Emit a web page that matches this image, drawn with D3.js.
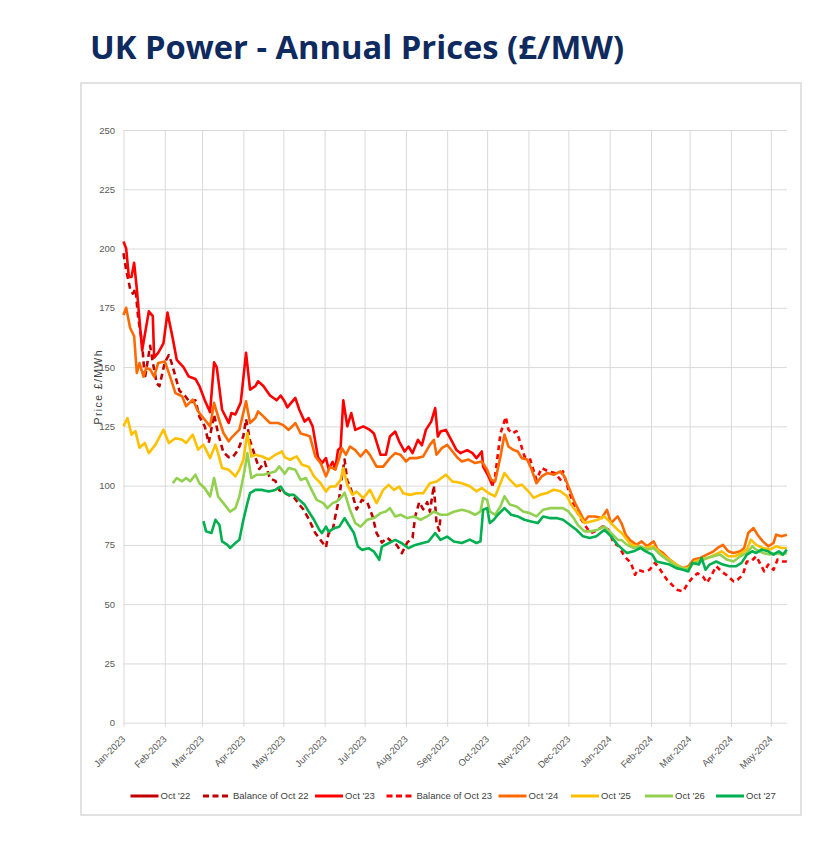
<!DOCTYPE html>
<html>
<head>
<meta charset="utf-8">
<script src="https://cdn.jsdelivr.net/npm/d3@7"></script>
<style>
  html, body { margin: 0; padding: 0; background: #ffffff; }
  svg { display: block; }
</style>
</head>
<body>
<div id="chart"></div>
<script>
// ---------------- DATA ----------------
// x values are day offsets from startDate (2023-01-01); y values are £/MWh
const startDate = new Date(2023, 0, 1);
const yTicks = [0, 25, 50, 75, 100, 125, 150, 175, 200, 225, 250];
const seriesNames = ["Oct '22", "Balance of Oct 22", "Oct '23", "Balance of Oct 23", "Oct '24", "Oct '25", "Oct '26", "Oct '27"];

const oct22 = [];   // legend only, no visible data in this window

const balOct22 = [[0,198],[2,191],[5,183],[7,181],[9,183],[11,171],[14,160],[16,145],[18,152],[20,159],[22,152],[25,143],[27,142],[31,152],[34,155],[36,152],[39,146],[42,140],[46,138],[50,135],[54,136],[57,129],[61,125],[64,118],[68,130],[71,122],[75,114],[79,112],[82,112],[86,115],[90,121],[92,128],[95,119],[99,112],[102,107],[106,110],[110,103],[114,102],[117,98],[121,97],[124,96],[128,95],[132,92],[135,90],[139,86],[144,80],[148,77],[152,74],[154,80],[157,81],[159,87],[162,95],[164,104],[166,111],[168,102],[170,100],[173,94],[175,90],[179,94],[183,93],[187,87],[190,80],[194,76],[198,78],[202,76],[205,75],[209,71.5],[213,76],[217,78],[219,87],[222,93],[225,90],[228,93],[230,89],[233,100],[235,84],[237,81],[238,87]];

const oct23 = [[0,203],[2,200],[4,188],[6,188],[8,194],[10,183],[14,157],[19,173.5],[22,171.5],[23,154],[26,156],[30,160],[33,173],[37,162],[40,153],[45,150],[49,146],[54,145],[57,142],[61,136],[65,131],[68,152],[70,150],[74,132],[79,126.5],[81,130.6],[84,130],[88,135],[92,156],[95,140.5],[99,142],[101,144],[105,142],[110,138],[115,136],[118,138],[121,135.5],[123,133],[129,137],[132,132],[136,127],[139,128.5],[142,125],[146,112],[149,109.5],[152,111.6],[154,107],[157,110],[159,107],[161,115],[163,116],[165,136],[168,125],[171,130.6],[174,123.5],[180,125],[185,123.5],[188,122],[193,113],[197,113],[200,120.7],[204,122.8],[207,118.6],[211,114.4],[214,116.5],[217,113.7],[221,119.3],[224,117],[227,123.5],[231,127],[234,132.7],[236,120.7],[238,122.8],[242,123.5],[246,119.3],[250,115],[253,113.7],[258,115],[262,113.7],[265,111.6],[269,114.4],[270,108],[274,104],[277,100]];

const balOct23 = [[277,100],[279,104],[283,122],[287,129],[289,123.6],[292,122],[295,123],[298,118],[301,112.3],[305,111.6],[310,102.5],[314,107.4],[319,106],[324,105.3],[328,102.5],[330,106],[334,98.3],[339,90.5],[343,86.3],[348,82],[351,80],[356,81.4],[360,82.8],[364,81.4],[368,75.8],[372,74.4],[376,70.2],[381,67.4],[384,62.4],[386,64.5],[390,63.8],[395,64.5],[399,67.4],[403,64.5],[408,60.3],[413,57.5],[416,56],[420,55.4],[424,59],[428,61.7],[431,63],[435,61.7],[438,59],[441,61.7],[445,66],[449,63.8],[454,61.7],[458,59.6],[461,60.3],[465,62.4],[468,68],[471,68],[475,70.2],[479,66],[481,63.8],[484,66.7],[488,64.5],[491,68.8],[495,68],[498,68]];

const oct24 = [[0,172],[2,175],[5,166.5],[8,163],[10,147.5],[12,151.7],[15,146],[17,149.6],[20,149],[23,146],[26,151.7],[31,152.4],[35,146],[39,139],[44,137.7],[47,133.5],[52,136.3],[56,131.3],[61,127.8],[65,125],[68,134.9],[71,129.2],[75,122.2],[79,118.7],[82,120.8],[87,123.6],[92,135.6],[95,126.4],[99,128.5],[101,131.3],[105,129.2],[110,126.4],[116,126.4],[120,125.5],[124,123.5],[129,126.4],[133,122],[137,121.4],[140,120.7],[144,112.3],[148,109.5],[152,103.9],[155,108],[159,106.7],[162,111.6],[164,115.8],[167,113],[170,116.5],[174,115],[178,112.3],[182,115],[185,113],[190,108],[195,108],[200,111.6],[204,113.7],[208,113],[212,110.2],[215,111.6],[220,111.6],[225,112.3],[230,117.2],[233,119.3],[235,113],[239,115.8],[243,117.2],[247,114.4],[251,111.6],[254,110.2],[259,111],[264,109.5],[269,110.2],[273,106.7],[276,102.5],[279,101.8],[283,112.3],[286,121.5],[289,116.5],[293,115],[296,114.4],[299,111.6],[303,111],[306,107.4],[310,101],[314,103.9],[318,105.3],[323,104.6],[328,106],[331,103.9],[335,98.3],[339,92.6],[343,88.4],[346,85],[349,87],[354,87],[359,86.3],[363,89.8],[366,84.2],[371,87],[374,84],[377,79.3],[380,77.2],[385,75],[389,76.5],[393,74.4],[398,76.5],[401,73],[405,71.6],[410,68.8],[415,66.7],[420,65.2],[424,66],[428,68.8],[433,69.5],[438,70.9],[443,72.3],[446,73.7],[450,75],[454,72.3],[458,71.6],[463,72.3],[466,73.7],[469,80],[473,82.1],[476,79.3],[480,76.5],[484,74.4],[488,75.8],[490,79.3],[494,78.6],[498,79.3]];

const oct25 = [[0,125],[3,128.5],[6,121.5],[9,123],[12,116],[16,118],[19,113.7],[24,117.3],[30,123.6],[34,118],[39,120],[44,119.4],[47,118],[52,121.5],[56,115.2],[60,117.3],[65,111.6],[69,117.3],[71,113.7],[74,107.4],[79,106.7],[84,103.9],[87,106.7],[90,111],[93,122.2],[96,112.3],[99,113],[104,112.3],[109,111],[114,113],[119,114.4],[121,112],[125,110.9],[130,112.3],[134,108.8],[139,108],[143,103.9],[148,101],[152,97.5],[155,99.6],[159,99.6],[163,102.4],[165,107.4],[168,100.3],[172,96.1],[175,97.5],[180,94.7],[185,98.2],[190,92.6],[195,98.2],[199,100.3],[203,98.2],[207,99.6],[210,96.8],[215,96.1],[220,96.8],[225,96.8],[230,101],[235,101.7],[242,104.6],[247,101.7],[250,101.5],[254,101],[260,99.7],[265,97.6],[269,99],[274,96.9],[279,95.5],[283,101],[286,105.3],[290,102.5],[295,99.7],[299,100.4],[304,97.6],[308,94.8],[313,96.2],[318,96.9],[323,98.3],[328,97.6],[333,95.5],[336,92],[341,88.4],[346,84.2],[351,84.9],[356,85.6],[361,87],[366,84.2],[371,81.4],[374,80],[377,77.9],[381,75],[386,74.4],[391,73.7],[398,74.4],[403,71.6],[408,69.5],[413,67.4],[419,65.2],[424,65.2],[429,68],[434,68.8],[439,69.5],[444,70.9],[449,72.3],[454,70.2],[459,70.2],[464,71.6],[468,73],[471,77.2],[475,75],[480,73.7],[485,73],[490,74.4],[494,73.7],[498,73.7]];

const oct26 = [[37,101],[40,103.2],[44,101.8],[47,103.2],[50,101.8],[54,104.6],[57,101],[61,98.9],[65,95.4],[68,103.2],[71,95.4],[75,92.6],[80,89],[84,90.5],[87,95.4],[91,106.7],[93,113.7],[96,103.2],[100,104.6],[105,104.6],[110,105.3],[114,106],[117,108.1],[121,105],[124,107.4],[129,106.7],[133,102.4],[137,103.2],[140,99.6],[145,94],[150,92.6],[153,90.5],[157,92.6],[160,93.3],[164,95.4],[166,97],[170,89.8],[174,84.2],[178,82.7],[183,85.6],[188,86.3],[193,88.4],[197,89.1],[200,90.5],[204,87],[208,87.7],[213,86.3],[218,87],[223,85.6],[228,87],[233,89.1],[238,87.7],[243,87.7],[248,89],[254,89.8],[259,89.1],[264,87.7],[268,89.1],[270,94.8],[273,94],[275,89.1],[279,87.7],[283,91.2],[286,95.5],[290,92],[295,91.2],[300,89.1],[305,88.4],[310,87],[315,89.8],[320,90.5],[325,90.5],[330,90.5],[334,89.1],[338,86.3],[341,83.5],[346,80.7],[351,80.7],[356,81.4],[361,82.8],[366,80],[371,77.2],[374,77],[378,75],[383,73.7],[388,74.4],[393,73],[398,73.7],[403,70.9],[408,68.8],[413,66.7],[419,65.2],[424,64.5],[428,67.4],[433,68],[438,69.5],[443,70.2],[448,70.9],[453,68.8],[458,68],[463,70.2],[468,71.6],[472,74.4],[475,73],[480,71.6],[485,70.9],[490,71.6],[494,70.9],[498,71.6]];

const oct27 = [[60,85],[62,80.7],[66,80],[69,85.6],[72,83.5],[74,76.5],[78,75],[80,73.7],[84,75.8],[87,77.2],[90,85.6],[93,92.6],[95,96.8],[99,98.2],[104,98.2],[109,97.5],[114,98.2],[118,99.6],[121,97],[124,96.1],[128,96.1],[132,94],[136,91.9],[139,89.1],[143,85.6],[147,81.3],[149,80],[152,82.7],[154,80.6],[158,82],[162,82.7],[166,86.3],[169,83.5],[173,80],[176,74.3],[179,72.9],[184,73.6],[188,72.2],[192,68.7],[194,74.3],[199,75.7],[204,77.1],[209,75.7],[214,73.6],[219,75],[224,75.7],[229,76.4],[234,80],[238,77.1],[243,78.5],[248,76.4],[254,75.8],[260,77.2],[265,75.8],[268,76.5],[270,89.8],[273,90.5],[275,84.2],[278,85.6],[281,87.7],[286,90.5],[291,87.7],[296,87],[301,85.6],[306,84.9],[311,84.2],[315,87],[320,86.3],[325,86.3],[330,85.6],[335,83.5],[340,81.4],[345,78.6],[350,77.9],[355,78.6],[361,81.4],[366,78.6],[371,75],[375,73],[378,71.6],[383,72.3],[388,73.7],[392,72.3],[397,70.9],[400,68],[405,67.4],[410,66.7],[415,65.2],[420,64.5],[424,63.8],[427,67.4],[432,66.7],[434,69.5],[437,64.5],[440,66.7],[445,68],[450,66.7],[455,66],[460,66],[464,67.4],[468,70.9],[472,72.3],[475,71.6],[479,73],[484,72.3],[488,70.9],[492,72.3],[495,70.9],[498,73]];

const seriesData = [oct22, balOct22, oct23, balOct23, oct24, oct25, oct26, oct27];
const seriesColors = ["#C00000", "#C00000", "#FF0000", "#FF0000", "#FF6A00", "#FFC000", "#92D050", "#00B050"];
const seriesDashes = [null, "6,4", null, "5,4", null, null, null, null];

// ---------------- LAYOUT ----------------
const W = 820, H = 849;
const plot = { left: 123.5, right: 787, top: 130, bottom: 722.7 };
const axisFont = "'Liberation Sans', Arial, sans-serif";

const svg = d3.select("#chart").append("svg")
  .attr("width", W).attr("height", H)
  .style("background", "#ffffff");

// Title
svg.append("text")
  .attr("x", 90).attr("y", 59)
  .attr("font-family", "'Open Sans', 'Noto Sans', sans-serif")
  .attr("font-weight", 700)
  .attr("font-size", 32)
  .attr("textLength", 534)
  .attr("lengthAdjust", "spacingAndGlyphs")
  .attr("fill", "#0E2A5E")
  .text("UK Power - Annual Prices (£/MW)");

// Chart box
svg.append("rect")
  .attr("x", 81).attr("y", 83).attr("width", 720).attr("height", 732)
  .attr("fill", "none").attr("stroke", "#d9d9d9").attr("stroke-width", 1.5);

// Scales
const x = d3.scaleTime()
  .domain([startDate, d3.timeDay.offset(startDate, 500)])
  .range([plot.left, plot.left + 500 * 1.332]);
const y = d3.scaleLinear().domain([0, 250]).range([plot.bottom, plot.top]);

const monthTicks = d3.timeMonth.range(new Date(2023, 0, 1), new Date(2024, 4, 2));
const fmt = d3.timeFormat("%b-%Y");

// Y axis with horizontal gridlines
const yAxis = svg.append("g")
  .attr("transform", `translate(${plot.left},0)`)
  .call(d3.axisLeft(y).tickValues(yTicks).tickSize(-(plot.right - plot.left)).tickPadding(8.5));
yAxis.select(".domain").remove();
yAxis.selectAll(".tick line").attr("stroke", "#d9d9d9").attr("stroke-width", 1);
yAxis.selectAll(".tick text")
  .attr("font-family", axisFont).attr("font-size", 9.5).attr("fill", "#595959");

// X axis with vertical gridlines
const xAxis = svg.append("g")
  .attr("transform", `translate(0,${plot.bottom})`)
  .call(d3.axisBottom(x).tickValues(monthTicks).tickFormat(fmt).tickSizeOuter(0));
xAxis.select(".domain").remove();
xAxis.selectAll(".tick line")
  .attr("y1", 4).attr("y2", -(plot.bottom - plot.top))
  .attr("stroke", "#d9d9d9").attr("stroke-width", 1);
xAxis.selectAll(".tick text")
  .attr("x", 0).attr("y", 0).attr("dy", 0)
  .attr("text-anchor", "end")
  .attr("transform", "translate(2,17) rotate(-45)")
  .attr("font-family", axisFont).attr("font-size", 9.5).attr("fill", "#595959");

// Y axis title
svg.append("text")
  .attr("transform", "translate(101.5,387.5) rotate(-90)")
  .attr("text-anchor", "middle")
  .attr("font-family", axisFont).attr("font-size", 10.5)
  .attr("textLength", 74).attr("lengthAdjust", "spacing")
  .attr("fill", "#404040")
  .text("Price £/MWh");

// Lines
const line = d3.line()
  .x(d => x(d3.timeDay.offset(startDate, d[0])))
  .y(d => y(d[1]));

const lineGroup = svg.append("g");
seriesData.forEach((data, i) => {
  if (!data.length) return;
  lineGroup.append("path")
    .datum(data)
    .attr("d", line)
    .attr("fill", "none")
    .attr("stroke", seriesColors[i])
    .attr("stroke-width", 2.6)
    .attr("stroke-linejoin", "round")
    .attr("stroke-dasharray", seriesDashes[i]);
});

// Legend
const legendX = [130.5, 203, 315, 386.5, 498.5, 571, 645, 716];
const legendY = 796;
const legend = svg.append("g");
seriesNames.forEach((name, i) => {
  const g = legend.append("g").attr("transform", `translate(${legendX[i]},${legendY})`);
  g.append("line")
    .attr("x1", 0).attr("x2", 28).attr("y1", 0).attr("y2", 0)
    .attr("stroke", seriesColors[i]).attr("stroke-width", 3)
    .attr("stroke-dasharray", seriesDashes[i] ? "6,3.5" : null);
  g.append("text")
    .attr("x", 30).attr("y", 0).attr("dy", "0.35em")
    .attr("font-family", axisFont).attr("font-size", 9.5).attr("fill", "#404040")
    .text(name);
});
</script>
</body>
</html>
